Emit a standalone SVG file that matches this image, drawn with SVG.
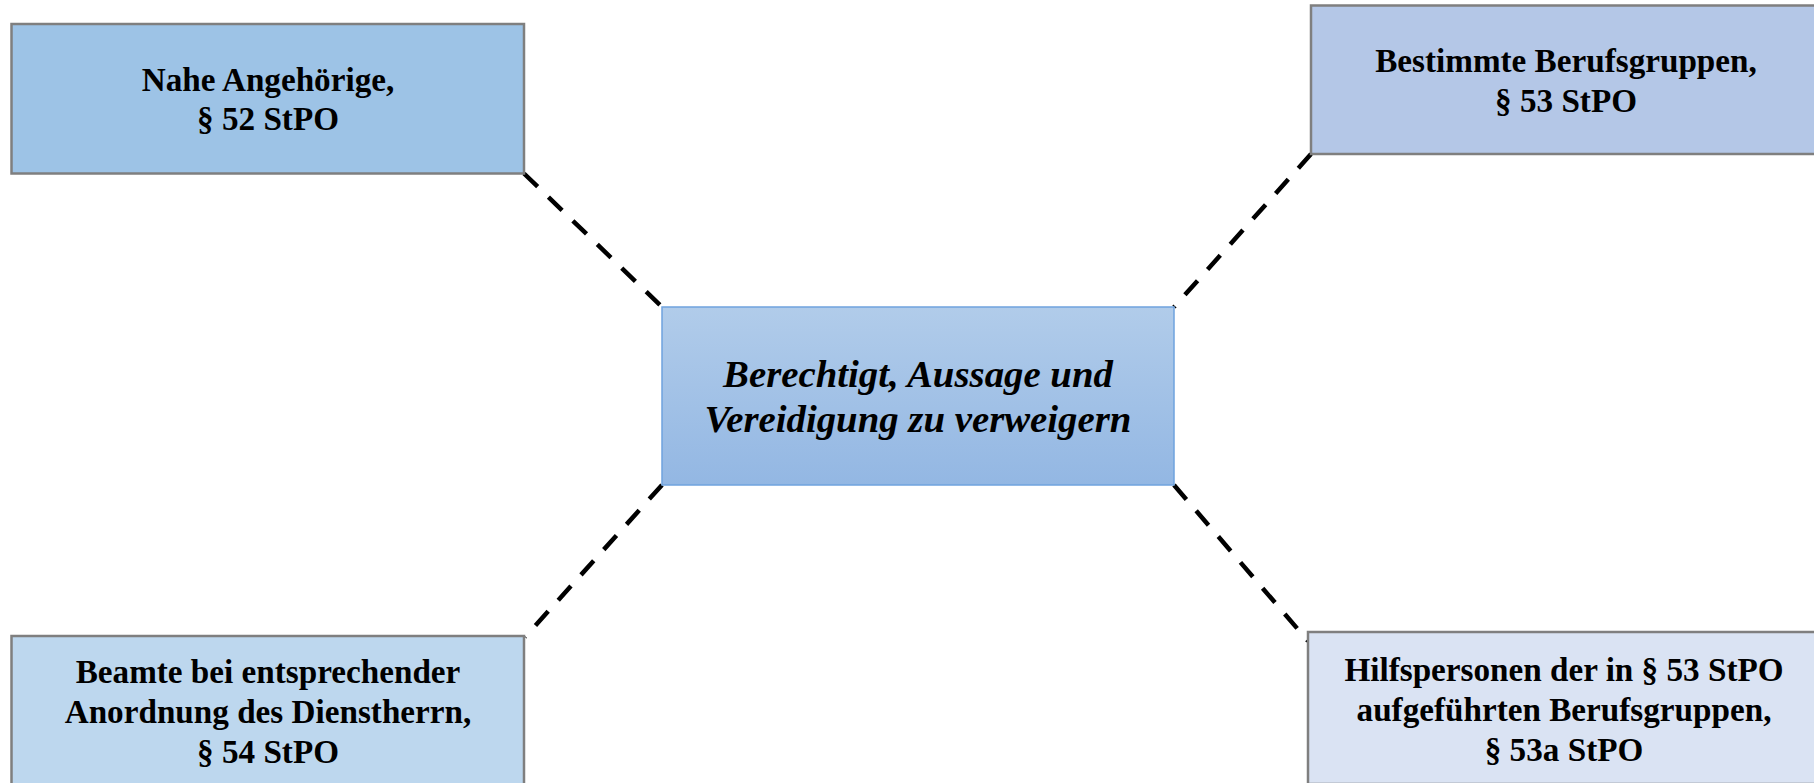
<svg xmlns="http://www.w3.org/2000/svg" width="1814" height="783" viewBox="0 0 1814 783">
  <defs>
    <linearGradient id="centerGrad" x1="0" y1="0" x2="0" y2="1">
      <stop offset="0" stop-color="#B1CCEA"/>
      <stop offset="1" stop-color="#93B7E3"/>
    </linearGradient>
    <style>
      .box { stroke: #7F7F7F; stroke-width: 2.5; }
      .lbl { font-family: "Liberation Serif", "Times New Roman", serif; font-weight: bold; font-size: 33.2px; fill: #000; text-anchor: middle; }
      .ctr { font-family: "Liberation Serif", "Times New Roman", serif; font-weight: bold; font-style: italic; font-size: 38.8px; fill: #000; text-anchor: middle; }
      .conn { stroke: #000; stroke-width: 4.5; stroke-dasharray: 19 15; fill: none; }
    </style>
  </defs>
  <rect width="1814" height="783" fill="#FFFFFF"/>

  <g id="connectors">
    <line class="conn" x1="524" y1="173.5" x2="662" y2="307"/>
    <line class="conn" x1="1311" y1="154" x2="1174" y2="307"/>
    <line class="conn" x1="662" y1="485" x2="525" y2="637"/>
    <line class="conn" x1="1174" y1="485" x2="1308" y2="641"/>
  </g>

  <g id="node-center">
    <rect x="662" y="307" width="512" height="178" fill="url(#centerGrad)" stroke="#6FA3DE" stroke-width="1.5"/>
    <text class="ctr" x="918" y="387">Berechtigt, Aussage und</text>
    <text class="ctr" x="918" y="432">Vereidigung zu verweigern</text>
  </g>

  <g id="node-52">
    <rect class="box" x="11.5" y="24" width="512.5" height="149.5" fill="#9DC3E6"/>
    <text class="lbl" x="268" y="91">Nahe Angehörige,</text>
    <text class="lbl" x="268" y="130">§ 52 StPO</text>
  </g>

  <g id="node-53">
    <rect class="box" x="1311" y="5.5" width="512" height="148.5" fill="#B4C7E7"/>
    <text class="lbl" x="1566" y="72">Bestimmte Berufsgruppen,</text>
    <text class="lbl" x="1566" y="112">§ 53 StPO</text>
  </g>

  <g id="node-54">
    <rect class="box" x="11.5" y="636" width="512.5" height="150" fill="#BDD7EE"/>
    <text class="lbl" x="268" y="683">Beamte bei entsprechender</text>
    <text class="lbl" x="268" y="723">Anordnung des Dienstherrn,</text>
    <text class="lbl" x="268" y="763">§ 54 StPO</text>
  </g>

  <g id="node-53a">
    <rect class="box" x="1308" y="632" width="512" height="152" fill="#DAE3F3"/>
    <text class="lbl" x="1564" y="681">Hilfspersonen der in § 53 StPO</text>
    <text class="lbl" x="1564" y="721">aufgeführten Berufsgruppen,</text>
    <text class="lbl" x="1564" y="761">§ 53a StPO</text>
  </g>
</svg>
